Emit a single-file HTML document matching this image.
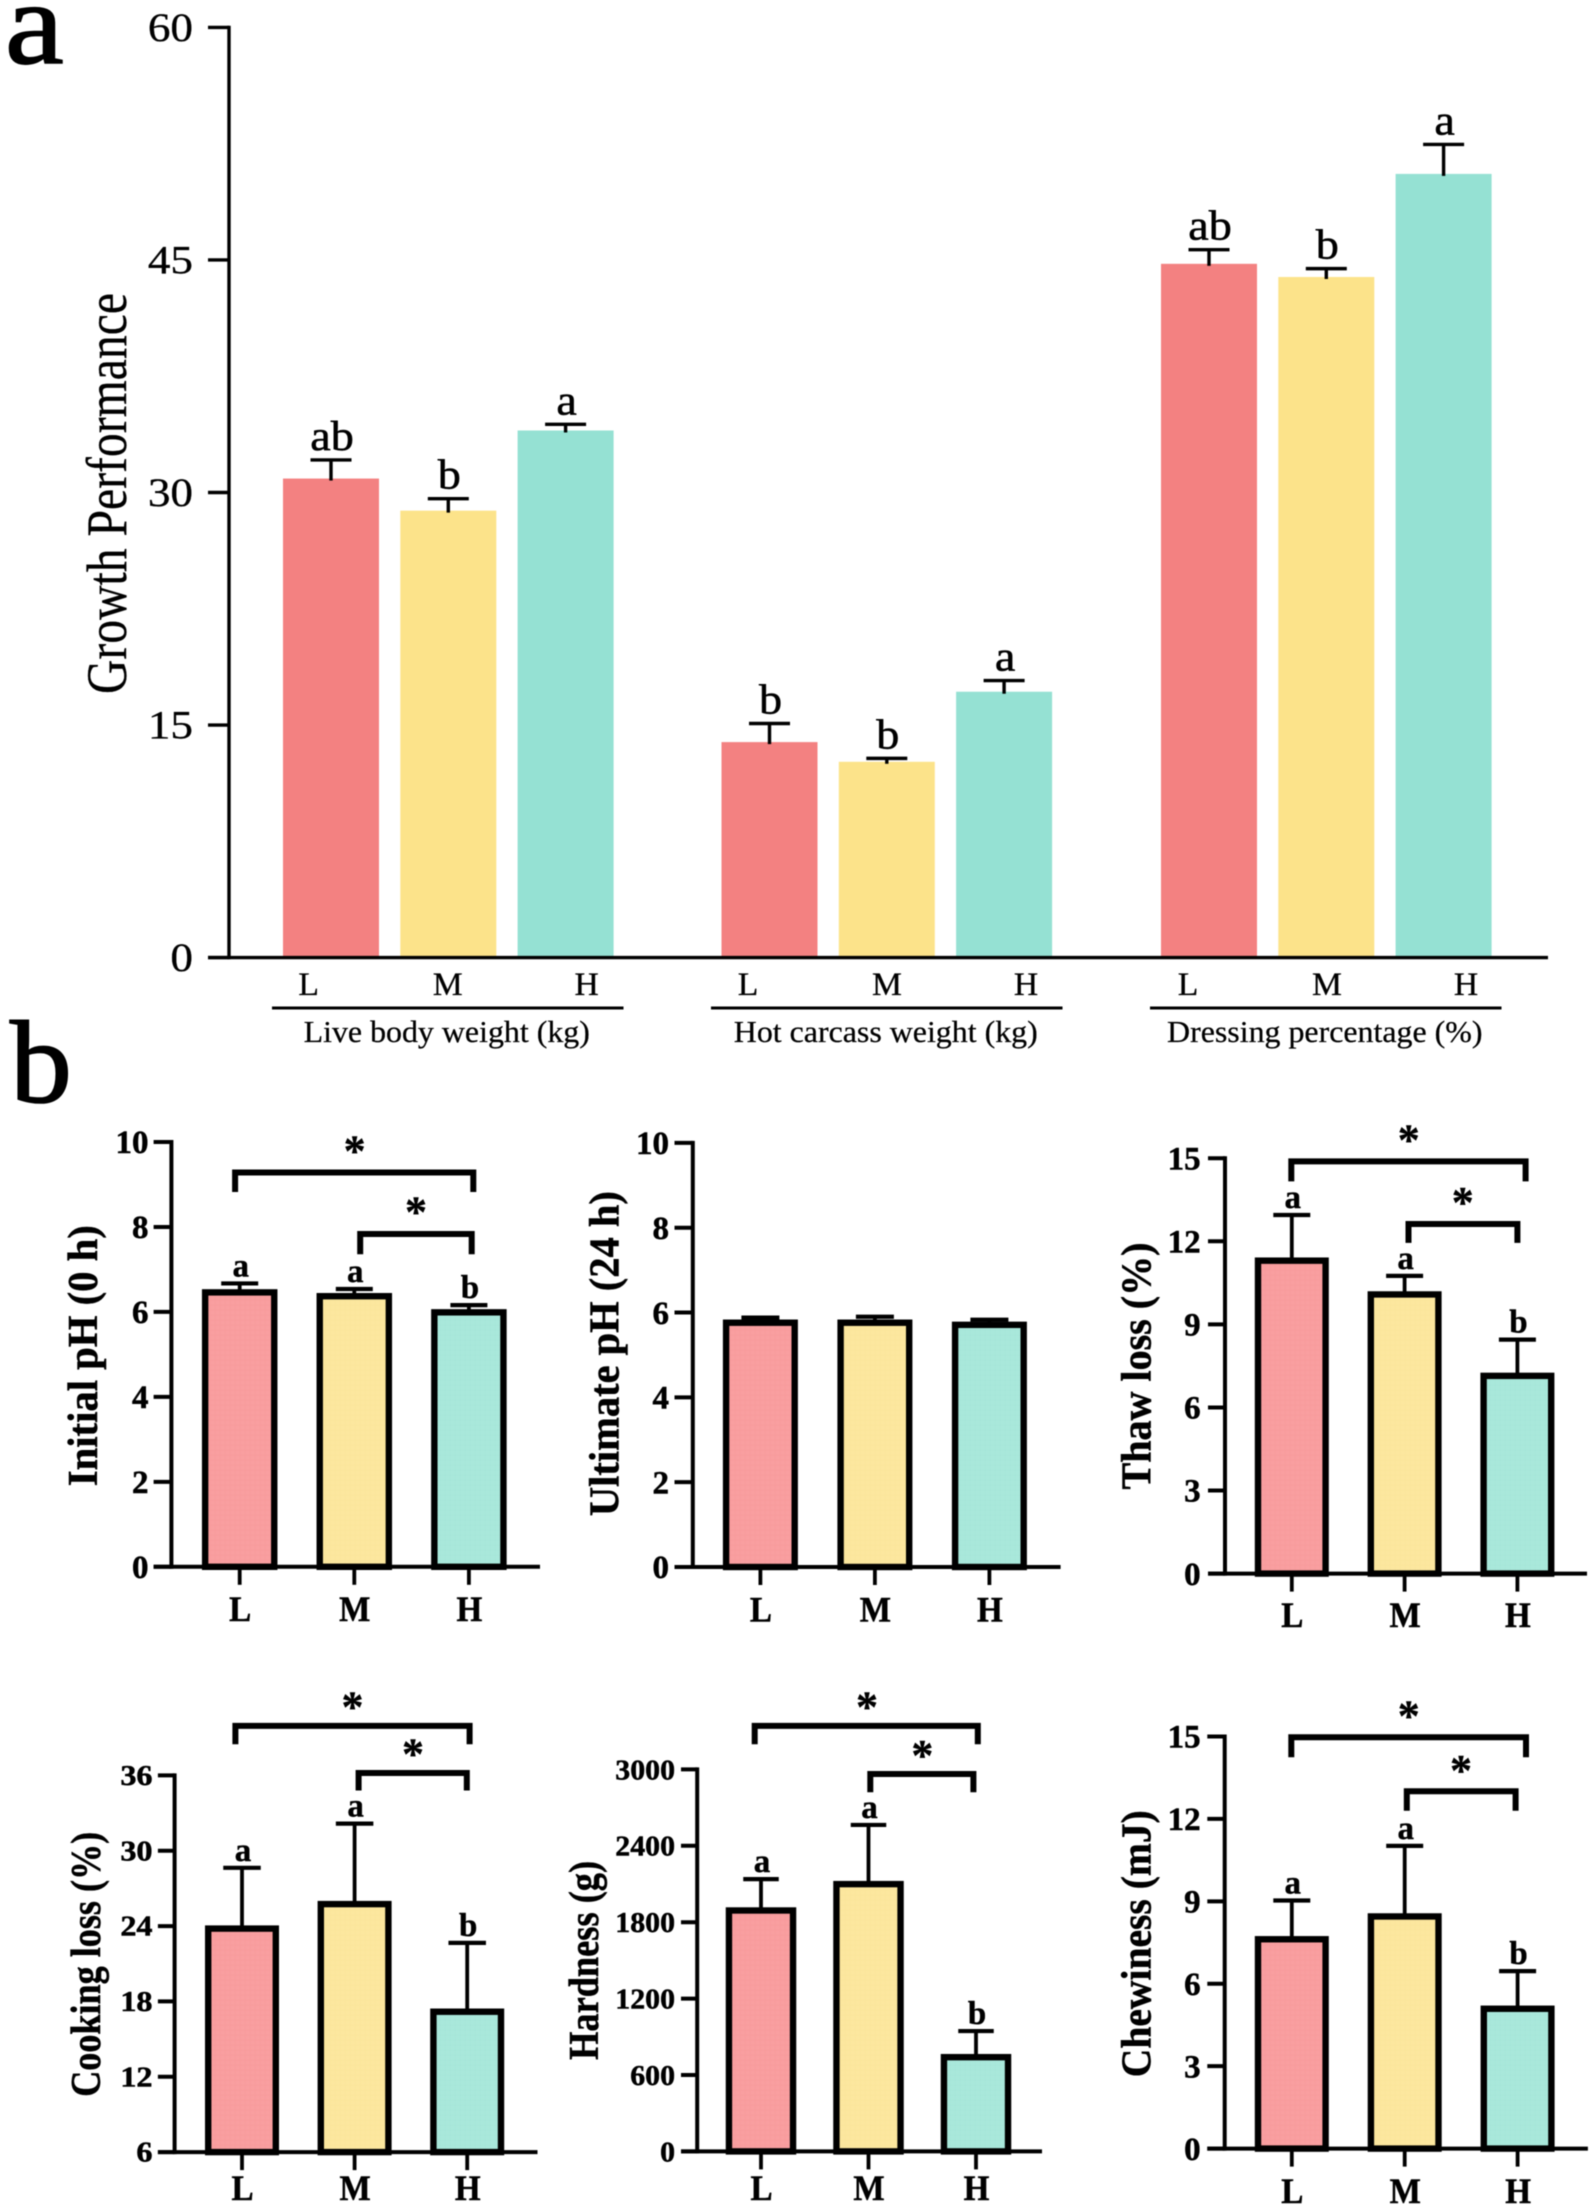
<!DOCTYPE html>
<html lang="en">
<head>
<meta charset="utf-8">
<title>Growth performance and meat quality bar charts</title>
<style>
html,body{margin:0;padding:0;background:#fff}
#figure{display:block;width:1595px;height:2210px;filter:blur(.45px);font-family:"Liberation Serif",serif}
</style>
</head>
<body>
<svg id="figure" xmlns="http://www.w3.org/2000/svg" width="1595" height="2210" viewBox="0 0 1595 2210">
<defs>
<pattern id="grid-l" width="5" height="5" patternUnits="userSpaceOnUse"><rect width="5" height="5" fill="#F99FA0"/><path d="M0 0H5M0 0V5" stroke="#F38F90" stroke-width="1" opacity=".45"/></pattern>
<pattern id="grid-m" width="5" height="5" patternUnits="userSpaceOnUse"><rect width="5" height="5" fill="#FCE79F"/><path d="M0 0H5M0 0V5" stroke="#F8DF90" stroke-width="1" opacity=".45"/></pattern>
<pattern id="grid-h" width="5" height="5" patternUnits="userSpaceOnUse"><rect width="5" height="5" fill="#A9E8DB"/><path d="M0 0H5M0 0V5" stroke="#9CE0D2" stroke-width="1" opacity=".45"/></pattern>
</defs>
</svg>
<script>
// ---------- data: panel a ----------
const treatmentLabels = ['L', 'M', 'H'];
const growthGroups = ['Live body weight (kg)', 'Hot carcass weight (kg)', 'Dressing percentage (%)'];
const growthTicks = [0, 15, 30, 45, 60];
const liveWeightMeans = [30.9, 28.83, 34.0];
const liveWeightErrors = [1.2, 0.77, 0.4];
const liveWeightLetters = ['ab', 'b', 'a'];
const carcassMeans = [13.9, 12.63, 17.15];
const carcassErrors = [1.2, 0.22, 0.72];
const carcassLetters = ['b', 'b', 'a'];
const dressingMeans = [44.75, 43.9, 50.55];
const dressingErrors = [0.91, 0.54, 1.9];
const dressingLetters = ['ab', 'b', 'a'];

// ---------- data: panel b ----------
const initialPhTicks = [0, 2, 4, 6, 8, 10];
const initialPhMeans = [6.46, 6.37, 5.99];
const initialPhErrors = [0.21, 0.17, 0.17];
const initialPhLetters = ['a', 'a', 'b'];
const ultimatePhTicks = [0, 2, 4, 6, 8, 10];
const ultimatePhMeans = [5.76, 5.76, 5.71];
const ultimatePhErrors = [0.12, 0.14, 0.12];
const ultimatePhLetters = ['', '', ''];
const thawTicks = [0, 3, 6, 9, 12, 15];
const thawMeans = [11.3, 10.08, 7.14];
const thawErrors = [1.65, 0.67, 1.31];
const thawLetters = ['a', 'a', 'b'];
const cookingTicks = [6, 12, 18, 24, 30, 36];
const cookingMeans = [23.8, 25.75, 17.18];
const cookingErrors = [4.84, 6.41, 5.48];
const cookingLetters = ['a', 'a', 'b'];
const hardnessTicks = [0, 600, 1200, 1800, 2400, 3000];
const hardnessMeans = [1892, 2099, 740];
const hardnessErrors = [246, 465, 205];
const hardnessLetters = ['a', 'a', 'b'];
const chewinessTicks = [0, 3, 6, 9, 12, 15];
const chewinessMeans = [7.62, 8.45, 5.09];
const chewinessErrors = [1.41, 2.57, 1.37];
const chewinessLetters = ['a', 'a', 'b'];

// ---------- drawing helpers ----------
const NS = 'http://www.w3.org/2000/svg';
const svg = document.getElementById('figure');
const slug = s => String(s).toLowerCase().replace(/[^a-z0-9]+/g, '-').replace(/^-|-$/g, '');

function make(tag, parent, props) {
  const el = document.createElementNS(NS, tag);
  for (const k in props) el.setAttribute(k, props[k]);
  parent.appendChild(el);
  return el;
}
function group(parent, name) {
  const el = make('g', parent, {});
  
  
  return el;
}
function line(parent, name, x1, y1, x2, y2, w) {
  const el = make('line', parent, {x1, y1, x2, y2, stroke: '#000', 'stroke-width': w});
  
  
  return el;
}
function label(parent, name, str, x, y, o) {
  const opts = o || {};
  const sx = opts.sx || 1;
  const rot = opts.rot ? ' rotate(' + opts.rot + ')' : '';
  const props = {
    transform: 'translate(' + x + ',' + y + ')' + rot + ' scale(' + sx + ',1)',
    'font-size': opts.size,
    'font-weight': opts.bold ? 'bold' : 'normal',
    'font-family': '"Liberation Serif", serif',
    'text-anchor': opts.anchor || 'middle',
    fill: '#000'
  };
  if (opts.weight) {
    props.stroke = '#000';
    props['stroke-width'] = opts.weight;
  }
  if (opts.length) {
    props.textLength = opts.length;
    props.lengthAdjust = 'spacingAndGlyphs';
  }
  const el = make('text', parent, props);
  el.textContent = str;
  
  
  return el;
}

// big panel letters
label(svg, 'panel-a-label', 'a', 5, 63, {size: 118, sx: 1.12, anchor: 'start', weight: 1.6});
label(svg, 'panel-b-label', 'b', 10, 1102, {size: 118, sx: 1.05, anchor: 'start', weight: 1.6});

// ---------- panel a ----------
(function drawPanelA() {
  const g = group(svg, 'growth-performance-chart');
  const y0 = 957.6, yTop = 27.4, axisX = 229, tickLeft = 208, xEnd = 1548;
  const y = v => y0 - (v - growthTicks[0]) / (growthTicks[growthTicks.length - 1] - growthTicks[0]) * (y0 - yTop);
  const colors = ['#F38181', '#FCE38A', '#95E1D3'];
  const groupStart = [331, 769.5, 1209];
  const barStep = 117.3, barW = 96;
  const labelStart = [308.7, 748, 1188], labelStep = 139;
  const ruleLeft = [272, 711, 1150], ruleW = 351.5;
  const series = [
    [liveWeightMeans, liveWeightErrors, liveWeightLetters],
    [carcassMeans, carcassErrors, carcassLetters],
    [dressingMeans, dressingErrors, dressingLetters]
  ];
  series.forEach(function (s, gi) {
    const sg = group(g, 'group-' + slug(growthGroups[gi]));
    s[0].forEach(function (mean, i) {
      const cx = groupStart[gi] + i * barStep;
      const top = y(mean + s[1][i]);
      const bar = make('rect', sg, {x: cx - barW / 2, y: y(mean), width: barW, height: y0 - y(mean), fill: colors[i]});
      
      
      line(sg, 'error-stem', cx, top, cx, y(mean) + 2, 3.4);
      line(sg, 'error-cap', cx - 20.5, top, cx + 20.5, top, 3.4);
      label(sg, 'significance-letter', s[2][i], cx + 1, top - 10, {size: 42, sx: 1.1, weight: 0.5});
      label(sg, 'x-tick-label', treatmentLabels[i], labelStart[gi] + i * labelStep, 995, {size: 33, sx: 1.02, weight: 0.3});
    });
    line(sg, 'group-rule', ruleLeft[gi], 1008, ruleLeft[gi] + ruleW, 1008, 3);
    label(sg, 'group-label', growthGroups[gi], ruleLeft[gi] + ruleW / 2 - 1, 1042, {size: 31, sx: 1.03, weight: 0.25});
  });
  line(g, 'y-axis', axisX, yTop - 1.7, axisX, y0 + 1.7, 3.4);
  line(g, 'x-axis', tickLeft, y0, xEnd, y0, 3.4);
  growthTicks.forEach(function (t) {
    line(g, 'y-tick', tickLeft, y(t), axisX, y(t), 3.4);
    label(g, 'y-tick-label', t, 193, y(t) + 13.5, {size: 40, sx: 1.13, anchor: 'end', weight: 0.3});
  });
  label(g, 'y-axis-title', 'Growth Performance', 126, 493.5, {size: 57, rot: -90, length: 401, weight: 0.3});
})();

// ---------- panel b ----------
function drawMiniChart(c) {
  const g = group(svg, c.name);
  const n = c.ticks.length;
  const y = v => c.y0 - (v - c.ticks[0]) / (c.ticks[n - 1] - c.ticks[0]) * (c.y0 - c.yTop);
  const x = i => c.x0 + i * c.step;
  const fills = ['url(#grid-l)', 'url(#grid-m)', 'url(#grid-h)'];
  const border = 6.4;

  c.means.forEach(function (mean, i) {
    const cx = x(i);
    const top = y(mean + c.errors[i]);
    line(g, 'error-stem', cx, top, cx, y(mean), 3.8);
    line(g, 'error-cap', cx - c.cap / 2, top, cx + c.cap / 2, top, 4.2);
    const bar = make('rect', g, {
      x: cx - c.barW / 2 + border / 2, y: y(mean),
      width: c.barW - border, height: c.y0 - y(mean),
      fill: fills[i], stroke: '#000', 'stroke-width': border
    });
    
    
    if (c.letters[i]) label(g, 'significance-letter', c.letters[i], cx + 1, top - 7, {size: 33, bold: true, weight: 0.4});
    line(g, 'x-tick', cx, c.y0, cx, c.y0 + 18, 3.8);
    label(g, 'x-tick-label', treatmentLabels[i], cx + 0.5, c.labelY, {size: 36, bold: true, sx: 0.92, weight: 0.5});
  });

  line(g, 'y-axis', c.axisX, c.yTop - 2, c.axisX, c.y0 + 2, 4);
  line(g, 'x-axis', c.tickLeft, c.y0, c.xEnd, c.y0, 4);
  c.ticks.forEach(function (t) {
    line(g, 'y-tick', c.tickLeft, y(t), c.axisX, y(t), 4);
    label(g, 'y-tick-label', t, c.tickRight, y(t) + c.tickFont * 0.34, {size: c.tickFont, bold: true, anchor: 'end', sx: c.tickSx || 1, weight: 0.5});
  });
  label(g, 'y-axis-title', c.title, c.titleX, c.titleY, {size: 42, bold: true, rot: -90, length: c.titleLen, weight: 0.5});

  (c.brackets || []).forEach(function (b) {
    const left = x(b.from) + b.dx1, right = x(b.to) + b.dx2;
    const p = make('path', g, {
      d: 'M' + left + ' ' + b.bottom + 'V' + b.top + 'H' + right + 'V' + b.bottom,
      fill: 'none', stroke: '#000', 'stroke-width': 6, 'stroke-linejoin': 'miter'
    });
    
    
    label(g, 'significance-star', '*', b.starX, b.starY + 44 * 0.47, {size: 44, bold: true, weight: 0.4});
  });
}

drawMiniChart({
  name: 'initial-ph-chart', title: 'Initial pH (0 h)', ticks: initialPhTicks,
  means: initialPhMeans, errors: initialPhErrors, letters: initialPhLetters,
  y0: 1566.8, yTop: 1142, axisX: 171.4, tickLeft: 153.6, xEnd: 540, tickRight: 148.5, tickFont: 33,
  x0: 239.7, step: 114.6, barW: 75.5, cap: 37, labelY: 1621,
  titleX: 97, titleY: 1355.7, titleLen: 261,
  brackets: [
    {from: 0, to: 2, dx1: -4.6, dx2: 4.4, top: 1172.5, bottom: 1192, starX: 354.6, starY: 1144.6},
    {from: 1, to: 2, dx1: 5.9, dx2: 2.8, top: 1234, bottom: 1254.3, starX: 416, starY: 1206}
  ]
});
drawMiniChart({
  name: 'ultimate-ph-chart', title: 'Ultimate pH (24 h)', ticks: ultimatePhTicks,
  means: ultimatePhMeans, errors: ultimatePhErrors, letters: ultimatePhLetters,
  y0: 1567, yTop: 1142.9, axisX: 692.8, tickLeft: 674.5, xEnd: 1060.6, tickRight: 669, tickFont: 33,
  x0: 760.4, step: 114.5, barW: 75, cap: 38, labelY: 1621.4,
  titleX: 618.4, titleY: 1353.6, titleLen: 325
});
drawMiniChart({
  name: 'thaw-loss-chart', title: 'Thaw loss (%)', ticks: thawTicks,
  means: thawMeans, errors: thawErrors, letters: thawLetters,
  y0: 1573.6, yTop: 1158.2, axisX: 1225, tickLeft: 1208, xEnd: 1587, tickRight: 1200.6, tickFont: 33,
  x0: 1291.8, step: 112.8, barW: 74, cap: 37, labelY: 1626.8,
  titleX: 1150.3, titleY: 1366, titleLen: 247,
  brackets: [
    {from: 0, to: 2, dx1: -0.5, dx2: 8.2, top: 1161.4, bottom: 1181.4, starX: 1408.8, starY: 1134},
    {from: 1, to: 2, dx1: 3.9, dx2: 0, top: 1224, bottom: 1242.9, starX: 1462.7, starY: 1196.4}
  ]
});
drawMiniChart({
  name: 'cooking-loss-chart', title: 'Cooking loss (%)', ticks: cookingTicks,
  means: cookingMeans, errors: cookingErrors, letters: cookingLetters,
  y0: 2152.1, yTop: 1775.4, axisX: 174.6, tickLeft: 157.9, xEnd: 537.5, tickRight: 152.5, tickFont: 28, tickSx: 1.15,
  x0: 242, step: 112.6, barW: 74, cap: 37.5, labelY: 2200,
  titleX: 100, titleY: 1964.3, titleLen: 265,
  brackets: [
    {from: 0, to: 2, dx1: -6.6, dx2: 2.4, top: 1725.9, bottom: 1744.2, starX: 352.5, starY: 1701},
    {from: 1, to: 2, dx1: 4, dx2: -0.4, top: 1773, bottom: 1790.5, starX: 413, starY: 1747.7}
  ]
});
drawMiniChart({
  name: 'hardness-chart', title: 'Hardness (g)', ticks: hardnessTicks,
  means: hardnessMeans, errors: hardnessErrors, letters: hardnessLetters,
  y0: 2151.4, yTop: 1769.4, axisX: 697.2, tickLeft: 681, xEnd: 1042, tickRight: 675, tickFont: 29, tickSx: 1.03,
  x0: 761, step: 107.5, barW: 70.5, cap: 35.5, labelY: 2200,
  titleX: 598, titleY: 1960.4, titleLen: 199,
  brackets: [
    {from: 0, to: 2, dx1: -6.3, dx2: 1.8, top: 1725.9, bottom: 1744.2, starX: 867, starY: 1701},
    {from: 1, to: 2, dx1: 1.8, dx2: -2.6, top: 1774, bottom: 1792.2, starX: 922.4, starY: 1749.4}
  ]
});
drawMiniChart({
  name: 'chewiness-chart', title: 'Chewiness (mJ)', ticks: chewinessTicks,
  means: chewinessMeans, errors: chewinessErrors, letters: chewinessLetters,
  y0: 2148.6, yTop: 1736.5, axisX: 1224.7, tickLeft: 1207.3, xEnd: 1587.9, tickRight: 1200.6, tickFont: 33,
  x0: 1291.8, step: 112.9, barW: 74, cap: 37, labelY: 2203,
  titleX: 1150.3, titleY: 1943.7, titleLen: 267,
  brackets: [
    {from: 0, to: 2, dx1: -0.5, dx2: 8.4, top: 1737.2, bottom: 1757.2, starX: 1408.8, starY: 1710},
    {from: 1, to: 2, dx1: 2.1, dx2: -2, top: 1791.2, bottom: 1810.8, starX: 1461, starY: 1764.5}
  ]
});
</script>
</body>
</html>
